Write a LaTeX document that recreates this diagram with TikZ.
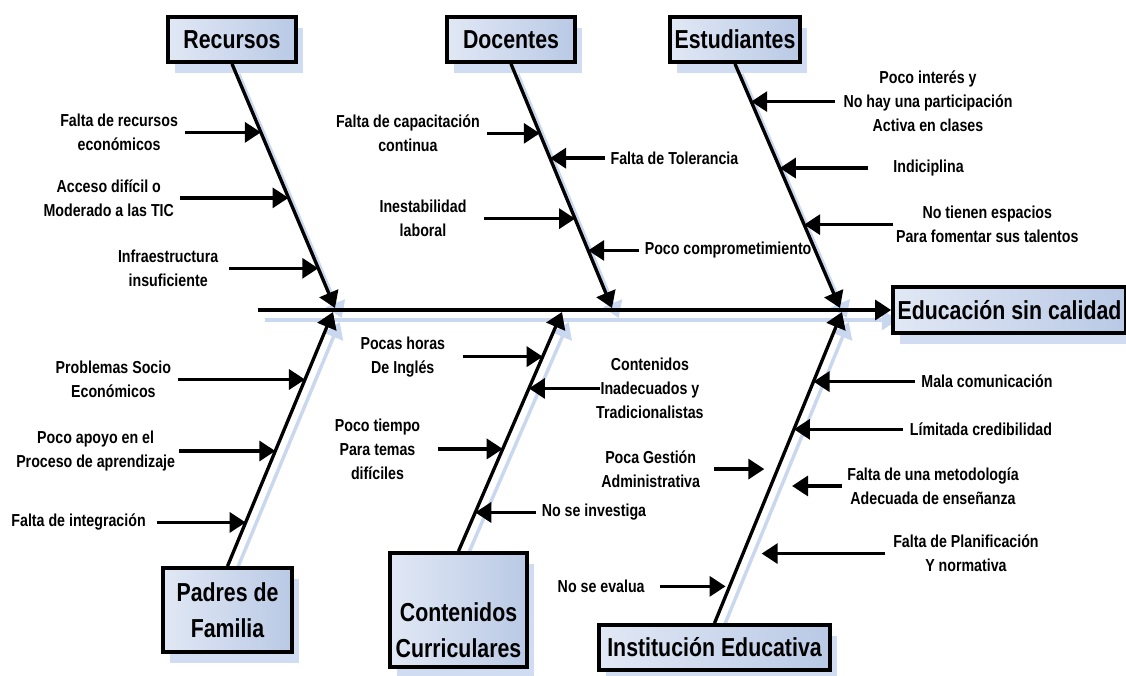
\documentclass[tikz,border=0pt]{standalone}
\usepackage{fontspec}
\setmainfont[FakeStretch=0.82]{Liberation Sans}
\usetikzlibrary{arrows.meta,positioning,shadows,calc,backgrounds}

\definecolor{boxleft}{HTML}{E1E8F5}
\definecolor{boxright}{HTML}{B9C9E5}
\definecolor{shadowblue}{HTML}{D0DCF1}
\definecolor{lineblue}{HTML}{C9D7EF}

\begin{document}
\begin{tikzpicture}[x=0.75pt, y=-0.75pt,
	boxfont/.style={font=\bfseries\fontsize{19.5}{27}\selectfont, align=center},
	category/.style={boxfont, draw, line width=2.8pt, left color=boxleft, right color=boxright,
		inner sep=0pt, drop shadow={shadow xshift=5pt, shadow yshift=-8pt, fill=shadowblue, opacity=1}},
	bone/.style={line width=2.5pt, -{Triangle[length=12pt,width=15pt]}},
	boneshade/.style={line width=2.6pt, draw=lineblue, -{Triangle[length=12pt,width=15pt]}},
	cause/.style={line width=2.5pt, -{Triangle[length=12pt,width=15pt]}},
	lbl/.style={font=\bfseries\fontsize{13}{18}\selectfont, align=center, inner sep=0pt}]
\clip (0,0) rectangle (1126,675);

\node[category, minimum width=96pt, minimum height=33.75pt] (rec) at (232,39.5) {Recursos};
\node[category, minimum width=96pt, minimum height=33.75pt] (doc) at (511,39.5) {Docentes};
\node[category, minimum width=97.5pt, minimum height=33.75pt] (est) at (735,39.5) {Estudiantes};
\node[category, minimum width=96.75pt, minimum height=63pt] (pad) at (227.5,610) {Padres de\\Familia};
\node[category, minimum width=102.75pt, minimum height=85.5pt] (con) at (458.5,610) {};
\node[boxfont] (conText) at ([yshift=-15pt]con.center) {Contenidos\\Curriculares};
\node[category, minimum width=173.25pt, minimum height=33.75pt] (ins) at (714.5,647.5) {Institución Educativa};
\node[category, minimum width=174.75pt, minimum height=34.5pt] (eff) at (1009.5,310) {Educación sin calidad};

\coordinate (tail) at (258,310);
\coordinate (recTip) at (335,308);
\coordinate (docTip) at (612,308);
\coordinate (estTip) at (840,308);
\coordinate (padTip) at (333,312);
\coordinate (conTip) at (562,312);
\coordinate (insTip) at (842,312);

\begin{scope}[on background layer]
\begin{scope}[transform canvas={xshift=5pt,yshift=-7.5pt}]
\foreach \a/\b in {tail/eff.west, rec.south/recTip, doc.south/docTip, est.south/estTip,
		pad.north/padTip, con.north/conTip, ins.north/insTip}
	\draw[boneshade] (\a) -- (\b);
\end{scope}
\end{scope}

\draw[bone] (tail) -- (eff.west);
\draw[bone] (rec.south) -- coordinate[pos=.2805] (r1) coordinate[pos=.5488] (r2) coordinate[pos=.8374] (r3) (recTip);
\draw[bone] (doc.south) -- coordinate[pos=.2846] (d1) coordinate[pos=.3862] (d2) coordinate[pos=.6341] (d3)
	coordinate[pos=.7642] (d4) (docTip);
\draw[bone] (est.south) -- coordinate[pos=.1545] (e1) coordinate[pos=.4268] (e2) coordinate[pos=.6585] (e3) (estTip);
\draw[bone] (pad.north) -- coordinate[pos=.1719] (p3) coordinate[pos=.4531] (p2) coordinate[pos=.7344] (p1) (padTip);
\draw[bone] (con.north) -- coordinate[pos=.1618] (c4) coordinate[pos=.4274] (c3) coordinate[pos=.6805] (c2)
	coordinate[pos=.8133] (c1) (conTip);
\draw[bone] (ins.north) -- coordinate[pos=.1182] (i6) coordinate[pos=.2236] (i5) coordinate[pos=.4409] (i4)
	coordinate[pos=.4952] (i3) coordinate[pos=.623] (i2) coordinate[pos=.7764] (i1) (insTip);

\foreach \p/\len/\gap/\cut/\txt in {
	r1/76/5/0/{Falta de recursos\\económicos},
	r2/109/4/0/{Acceso difícil o\\Moderado a las TIC},
	r3/89/8/0/{Infraestructura\\insuficiente},
	d1/53/5/0/{Falta de capacitación\\continua},
	d3/91/13/0/{Inestabilidad\\laboral},
	p1/127/5/0/{Problemas Socio\\Económicos},
	p2/96/3/0/{Poco apoyo en el\\Proceso de aprendizaje},
	p3/89/8/0/{Falta de integración},
	c1/80/13/0/{Pocas horas\\De Inglés},
	c3/65/13/0/{Poco tiempo\\Para temas\\difíciles},
	i3/64/10/10/{Poca Gestión\\Administrativa},
	i6/70/11/3/{No se evalua}}
{
	\draw[cause, shorten >=\cut pt] ($(\p)+(-\len,0)$) coordinate (\p t) -- (\p);
	\node[lbl, left=\gap pt of \p t] (\p l) {\txt};
}

\foreach \p/\len/\gap/\cut/\txt in {
	d2/55/4/0/{Falta de Tolerancia},
	d4/51/4/0/{Poco comprometimiento},
	e1/84/6/0/{Poco interés y\\No hay una participación\\Activa en clases},
	e2/88/19/0/{Indiciplina},
	e3/89/2/0/{No tienen espacios\\Para fomentar sus talentos},
	c2/71/-3/0/{Contenidos\\Inadecuados y\\Tradicionalistas},
	c4/61/4/0/{No se investiga},
	i1/101/5/0/{Mala comunicación},
	i2/109/5/0/{Límitada credibilidad},
	i4/71/4/16/{Falta de una metodología\\Adecuada de enseñanza},
	i5/142/6/14/{Falta de Planificación\\Y normativa}}
{
	\draw[cause, shorten >=\cut pt] ($(\p)+(\len,0)$) coordinate (\p t) -- (\p);
	\node[lbl, right=\gap pt of \p t] (\p l) {\txt};
}
\end{tikzpicture}
\end{document}
